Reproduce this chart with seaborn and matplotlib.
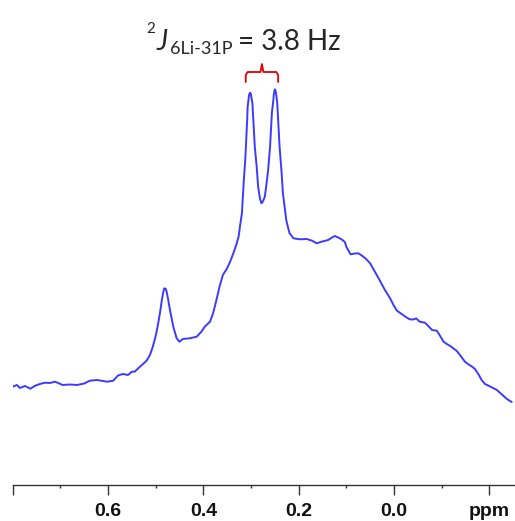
import matplotlib
matplotlib.use("Agg")
import matplotlib.pyplot as plt
from matplotlib.ticker import FixedLocator
import seaborn as sns
import pandas as pd

# chemical shift (ppm) and intensity (arbitrary units)
ppm = [0.800, 0.791, 0.785, 0.774, 0.763, 0.753, 0.743, 0.732, 0.722, 0.711,
       0.695, 0.680, 0.665, 0.650, 0.638, 0.623, 0.602, 0.589, 0.579, 0.569,
       0.558, 0.550, 0.544, 0.533, 0.519, 0.512, 0.506, 0.500, 0.496, 0.491,
       0.487, 0.484, 0.482, 0.479, 0.477, 0.474, 0.470, 0.463, 0.456, 0.450,
       0.443, 0.428, 0.414, 0.404, 0.397, 0.386, 0.380, 0.376, 0.370, 0.366,
       0.359, 0.351, 0.344, 0.337, 0.331, 0.326, 0.323, 0.319, 0.317, 0.315,
       0.312, 0.310, 0.308, 0.307, 0.305, 0.304, 0.302, 0.300, 0.299, 0.297, 0.295, 0.292,
       0.288, 0.285, 0.281, 0.278, 0.275, 0.271, 0.268, 0.264, 0.260, 0.258,
       0.256, 0.253, 0.252, 0.250, 0.248, 0.247, 0.245, 0.243, 0.240, 0.236, 0.233,
       0.229, 0.226, 0.222, 0.219, 0.211, 0.197, 0.183, 0.172, 0.162, 0.152,
       0.138, 0.130, 0.124, 0.117, 0.110, 0.103, 0.100, 0.091, 0.082, 0.075,
       0.069, 0.060, 0.050, 0.040, 0.031, 0.019, 0.008, 0.001, -0.006, -0.016,
       -0.025, -0.033, -0.040, -0.047, -0.054, -0.065, -0.072, -0.080, -0.090, -0.097,
       -0.104, -0.111, -0.118, -0.132, -0.140, -0.149, -0.155, -0.163, -0.170, -0.177,
       -0.184, -0.191, -0.201, -0.216, -0.230, -0.237, -0.247]
intensity = [98.3, 100, 97, 99, 96.3, 99.3, 101, 102.3, 102, 103.3,
             100, 100.5, 100, 101.5, 104.3, 105, 103.3, 104.3, 109.5, 111,
             110, 113.3, 113.3, 118.3, 124.3, 130, 138.3, 149, 158.3, 172,
             185, 193, 196.7, 196.2, 193.3, 186, 175, 158.3, 146.7, 143.3,
             146, 146.7, 148.3, 153.3, 158.3, 163.3, 171, 178.3, 190, 198.3,
             210, 216, 223, 231.7, 240, 248.3, 259, 271.7, 289, 305,
             325, 345, 365, 378.3, 386, 390, 392.3, 391, 387, 381.7, 365, 338.3,
             318, 298.3, 286, 281.7, 283.5, 288.3, 299, 315, 338, 355,
             373, 385, 391, 395.7, 393.5, 390, 383, 365, 338.3, 314, 291.7,
             276, 265, 257, 251.7, 246.7, 245.7, 246, 244.3, 241.7, 243.3,
             245, 247.5, 249, 247.5, 245.7, 243, 238.3, 230.7, 231.5, 231.7,
             230, 226.7, 221.7, 213.3, 205.7, 195, 186.7, 180, 174.5, 171,
             168, 165.7, 165.5, 166.5, 163.3, 162.3, 159, 155, 154.3, 149,
             143.3, 141, 139, 134, 129, 123.3, 121, 118.7, 116, 111,
             105, 101, 98.7, 95, 89, 86, 83]

doublet_ppm = [0.302, 0.250]
major_ticks = [0.8, 0.6, 0.4, 0.2, 0.0, -0.2]
major_labels = ["", "0.6", "0.4", "0.2", "0.0", "ppm"]
minor_ticks = [0.7, 0.5, 0.3, 0.1, -0.1]

df = pd.DataFrame({"ppm": ppm, "intensity": intensity})

sns.set_style("white")
W, H = 515, 521
fig = plt.figure(figsize=(W / 100, H / 100), dpi=100)
ax = fig.add_axes([12.7 / W, (H - 485) / H, 1 - 12.7 / W, 485 / H])

sns.lineplot(data=df, x="ppm", y="intensity", sort=False, estimator=None,
             color="#3b3bff", lw=1.4, ax=ax)

ax.set_xlim(0.8, -0.254)
ax.set_ylim(0, 485)
for s in ["left", "top", "right"]:
    ax.spines[s].set_visible(False)
ax.spines["bottom"].set_color("#333333")
ax.spines["bottom"].set_linewidth(1.0)
ax.set_yticks([])
ax.xaxis.set_major_locator(FixedLocator(major_ticks))
ax.xaxis.set_minor_locator(FixedLocator(minor_ticks))
ax.set_xticklabels(major_labels)
ax.tick_params(axis="x", which="both", bottom=True)
ax.tick_params(axis="x", which="major", direction="out", length=7, width=1.0,
               color="#333333", pad=6, labelsize=14, labelcolor="#111111")
ax.tick_params(axis="x", which="minor", direction="out", length=2.5, width=1.0,
               color="#333333")
for lab in ax.get_xticklabels():
    lab.set_fontweight("bold")
    lab.set_family("Liberation Sans")
ax.set_xlabel("")
ax.set_ylabel("")

# red bracket over the doublet
p1, p2 = doublet_ppm
xa, xb = p1 + 0.009, p2 - 0.007
xc = (xa + xb) / 2
ax.plot([xa, xa, xa - 0.004, xc + 0.003, xc, xc - 0.003, xb + 0.004, xb, xb],
        [403, 410, 413, 413, 421, 413, 413, 410, 403],
        color="#e00000", lw=1.3, solid_joinstyle="round", clip_on=False)

# coupling label
fam = ["Lato", "DejaVu Sans"]
def px(x, y):
    return x / W, 1 - y / H
fig.text(*px(146, 33), "2", fontsize=11, family=fam, va="baseline")
fig.text(*px(157, 50), "J", fontsize=20, family=fam, style="italic", va="baseline")
fig.text(*px(170, 54), "6Li-31P", fontsize=13, family=fam, va="baseline")
fig.text(*px(238, 50), "= 3.8 Hz", fontsize=20, family=fam, va="baseline")

fig.savefig("out.png", dpi=100)
